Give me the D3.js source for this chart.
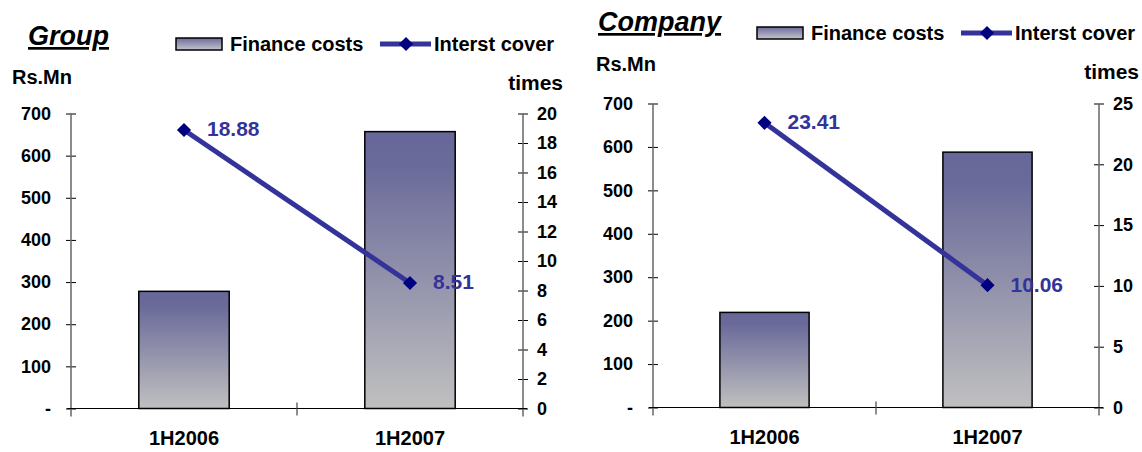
<!DOCTYPE html>
<html>
<head>
<meta charset="utf-8">
<script src="https://cdn.jsdelivr.net/npm/d3@7"></script>
<style>
  body { margin: 0; background: #fff; }
  svg text { font-family: "Liberation Sans", Arial, sans-serif; font-weight: bold; }
</style>
</head>
<body>
<svg width="1142" height="452"></svg>
<script>
// data
const categories = ['1H2006', '1H2007'];
const groupFinance = [278, 657];
const groupCover = [18.88, 8.51];
const companyFinance = [219, 588];
const companyCover = [23.41, 10.06];
const leftTicks = [0, 100, 200, 300, 400, 500, 600, 700];
const groupRightTicks = [0, 2, 4, 6, 8, 10, 12, 14, 16, 18, 20];
const companyRightTicks = [0, 5, 10, 15, 20, 25];

const svg = d3.select('svg');

const defs = svg.append('defs');
const grad = defs.append('linearGradient')
    .attr('id', 'barGrad')
    .attr('x1', 0).attr('y1', 0).attr('x2', 0).attr('y2', 1);
grad.append('stop').attr('offset', '0%').attr('stop-color', '#666699');
grad.append('stop').attr('offset', '12%').attr('stop-color', '#6a6a9a');
grad.append('stop').attr('offset', '100%').attr('stop-color', '#c0c0c0');

const legGrad = defs.append('linearGradient')
    .attr('id', 'legGrad')
    .attr('x1', 0).attr('y1', 0).attr('x2', 0).attr('y2', 1);
legGrad.append('stop').attr('offset', '0%').attr('stop-color', '#6c6c9c');
legGrad.append('stop').attr('offset', '100%').attr('stop-color', '#c4c4cc');

const panels = [
  {title: 'Group', finance: groupFinance, cover: groupCover,
    rTicks: groupRightTicks, rMax: 20,
    x0: 71, x1: 523, yTop: 113.5, yBot: 408.5,
    titleX: 28, titleY: 45, legX: 176, legY: 44,
    rsX: 12, rsY: 84, timesX: 563, timesY: 90},
  {title: 'Company', finance: companyFinance, cover: companyCover,
    rTicks: companyRightTicks, rMax: 25,
    x0: 653, x1: 1099, yTop: 103.5, yBot: 407.5,
    titleX: 598, titleY: 31, legX: 757, legY: 33,
    rsX: 596, rsY: 71, timesX: 1139, timesY: 79},
];

panels.forEach(drawPanel);

function drawPanel(p) {
  const g = svg.append('g');

  const x = d3.scaleBand()
      .domain(categories)
      .range([p.x0, p.x1])
      .paddingInner(0.6)
      .paddingOuter(0.3);
  const yL = d3.scaleLinear().domain([0, 700]).range([p.yBot, p.yTop]);
  const yR = d3.scaleLinear().domain([0, p.rMax]).range([p.yBot, p.yTop]);

  // bars
  g.selectAll('rect.bar')
      .data(p.finance)
      .enter()
      .append('rect')
      .attr('class', 'bar')
      .attr('x', (d, i) => x(categories[i]))
      .attr('y', (d) => yL(d))
      .attr('width', x.bandwidth())
      .attr('height', (d) => yL(0) - yL(d))
      .style('fill', 'url(#barGrad)')
      .style('stroke', '#000')
      .style('stroke-width', 1.5);

  // left axis
  const left = g.append('g')
      .attr('transform', `translate(${p.x0},0)`)
      .call(d3.axisLeft(yL).tickValues(leftTicks)
          .tickSize(5).tickSizeOuter(0).tickPadding(15)
          .tickFormat((d) => d === 0 ? '-' : d));
  left.selectAll('.tick line').attr('x1', 5);
  left.select('.domain').remove();
  left.selectAll('text').style('font-size', '18px').attr('fill', '#000');
  g.append('line')
      .attr('x1', p.x0).attr('x2', p.x0)
      .attr('y1', p.yTop).attr('y2', p.yBot + 8)
      .style('stroke', '#666').style('stroke-width', 1.5);

  // right axis
  const right = g.append('g')
      .attr('transform', `translate(${p.x1},0)`)
      .call(d3.axisRight(yR).tickValues(p.rTicks)
          .tickSize(5).tickSizeOuter(0).tickPadding(9));
  right.selectAll('.tick line').attr('x1', -5);
  right.select('.domain').remove();
  right.selectAll('text').style('font-size', '18px').attr('fill', '#000');
  g.append('line')
      .attr('x1', p.x1).attr('x2', p.x1)
      .attr('y1', p.yTop).attr('y2', p.yBot + 8)
      .style('stroke', '#666').style('stroke-width', 1.5);

  // x axis, with a tick between the two categories
  g.append('line')
      .attr('x1', p.x0 - 4).attr('x2', p.x1 + 4)
      .attr('y1', p.yBot).attr('y2', p.yBot)
      .style('stroke', '#000').style('stroke-width', 1.2);
  g.append('line')
      .attr('x1', (p.x0 + p.x1) / 2).attr('x2', (p.x0 + p.x1) / 2)
      .attr('y1', p.yBot - 6).attr('y2', p.yBot + 7)
      .style('stroke', '#444').style('stroke-width', 1.2);

  const bottom = g.append('g')
      .attr('transform', `translate(0,${p.yBot})`)
      .call(d3.axisBottom(x).tickSize(0).tickPadding(22));
  bottom.select('.domain').remove();
  bottom.selectAll('text').style('font-size', '20px').attr('fill', '#000');

  // line series
  const cx = (i) => x(categories[i]) + x.bandwidth() / 2;
  const line = d3.line()
      .x((d, i) => cx(i))
      .y((d) => yR(d));
  g.append('path')
      .datum(p.cover)
      .attr('d', line)
      .style('fill', 'none')
      .style('stroke', '#333399')
      .style('stroke-width', 5);

  g.selectAll('path.marker')
      .data(p.cover)
      .enter()
      .append('path')
      .attr('class', 'marker')
      .attr('d', d3.symbol(d3.symbolSquare, 100))
      .attr('transform', (d, i) => `translate(${cx(i)},${yR(d)}) rotate(45)`)
      .style('fill', '#000080');

  g.selectAll('text.val')
      .data(p.cover)
      .enter()
      .append('text')
      .attr('class', 'val')
      .attr('x', (d, i) => cx(i) + 23)
      .attr('y', (d) => yR(d) - 1)
      .attr('dy', '0.35em')
      .style('font-size', '21px')
      .style('fill', '#333399')
      .text((d) => d.toFixed(2));

  // title
  g.append('text')
      .attr('x', p.titleX).attr('y', p.titleY)
      .style('font-size', '27px')
      .style('font-style', 'italic')
      .style('text-decoration', 'underline')
      .text(p.title);

  // axis titles
  g.append('text')
      .attr('x', p.rsX).attr('y', p.rsY)
      .style('font-size', '20px')
      .text('Rs.Mn');
  g.append('text')
      .attr('x', p.timesX).attr('y', p.timesY)
      .attr('text-anchor', 'end')
      .style('font-size', '21px')
      .text('times');

  // legend
  const leg = g.append('g').attr('transform', `translate(${p.legX},${p.legY})`);
  leg.append('rect')
      .attr('x', 0).attr('y', -6).attr('width', 46).attr('height', 12)
      .style('fill', 'url(#legGrad)')
      .style('stroke', '#000').style('stroke-width', 1.5);
  leg.append('text')
      .attr('x', 54).attr('dy', '0.35em')
      .style('font-size', '20px')
      .text('Finance costs');
  leg.append('line')
      .attr('x1', 204).attr('x2', 255)
      .style('stroke', '#333399').style('stroke-width', 5);
  leg.append('path')
      .attr('d', d3.symbol(d3.symbolSquare, 100))
      .attr('transform', 'translate(230,0) rotate(45)')
      .style('fill', '#000080');
  leg.append('text')
      .attr('x', 258).attr('dy', '0.35em')
      .style('font-size', '20px')
      .text('Interst cover');
}
</script>
</body>
</html>
